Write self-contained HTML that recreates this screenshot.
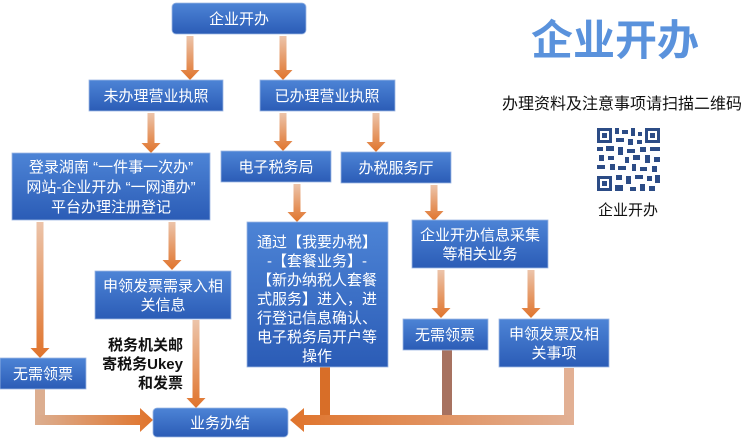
<!DOCTYPE html>
<html><head><meta charset="utf-8"><style>
html,body{margin:0;padding:0;background:#fff;width:750px;height:441px;overflow:hidden}
svg text{font-family:"Liberation Sans","Noto Sans CJK SC",sans-serif}
</style></head><body>
<svg width="750" height="441" viewBox="0 0 750 441" xmlns="http://www.w3.org/2000/svg">
<defs>
<linearGradient id="bx" x1="0" y1="0" x2="0" y2="1"><stop offset="0" stop-color="#4d84d6"/><stop offset="1" stop-color="#2b5cb6"/></linearGradient>
<linearGradient id="ar" x1="0" y1="0" x2="0" y2="1"><stop offset="0" stop-color="#ecc4aa"/><stop offset="1" stop-color="#e0742c"/></linearGradient>
<linearGradient id="hl" x1="0" y1="0" x2="1" y2="0"><stop offset="0" stop-color="#dcae90"/><stop offset="1" stop-color="#e0742c"/></linearGradient>
<linearGradient id="hr" x1="0" y1="0" x2="1" y2="0"><stop offset="0" stop-color="#e0742c"/><stop offset="1" stop-color="#e2b094"/></linearGradient>
</defs>
<g fill="url(#ar)">
<!-- arrows: shaft + head -->
<path d="M186.5 36h7v34h6l-9.5 10l-9.5-10h6z"/>
<path d="M279.5 36h7v34h6l-9.5 10l-9.5-10h6z"/>
<path d="M147.5 113h7v30h6l-9.5 10l-9.5-10h6z"/>
<path d="M279.5 113h7v28h6l-9.5 10l-9.5-10h6z"/>
<path d="M372.5 113h7v29h6l-9.5 10l-9.5-10h6z"/>
<path d="M36.5 222h7v126h6l-9.5 10l-9.5-10h6z"/>
<path d="M168.5 222h7v38h6l-9.5 10l-9.5-10h6z"/>
<path d="M293.5 184h7v28h6l-9.5 10l-9.5-10h6z"/>
<path d="M430.5 185h7v26h6l-9.5 10l-9.5-10h6z"/>
<path d="M437.5 270h7v38h6l-9.5 10l-9.5-10h6z"/>
<path d="M527.5 270h7v38h6l-9.5 10l-9.5-10h6z"/>
<path d="M192.5 320h7v78h6l-9.5 10l-9.5-10h6z"/>
</g>
<!-- bottom-left connector -->
<rect x="35" y="389" width="10" height="36" fill="#dcae90"/>
<path d="M35 415h105v-7l13 12l-13 12v-7h-105z" fill="url(#hl)"/>
<!-- right connectors -->
<rect x="320" y="367" width="10" height="53" fill="#d86e28"/>
<rect x="442" y="350" width="10" height="70" fill="#a77260"/>
<rect x="564" y="368" width="10" height="57" fill="#e2b094"/>
<path d="M574 415v10h-270v7l-14-12l14-12v7z" fill="url(#hr)"/>
<g fill="url(#bx)" stroke="#9db8e4" stroke-width="0.8">
<rect x="172" y="3" width="134" height="31" rx="4"/>
<rect x="89" y="80" width="134" height="31"/>
<rect x="260" y="80" width="135" height="31"/>
<rect x="12" y="153" width="198" height="67"/>
<rect x="221" y="151" width="110" height="31"/>
<rect x="341" y="152" width="110" height="31"/>
<rect x="247" y="222" width="141" height="145"/>
<rect x="412" y="220" width="136" height="48"/>
<rect x="95" y="271" width="136" height="48"/>
<rect x="0" y="358" width="86" height="31"/>
<rect x="403" y="319" width="85" height="31"/>
<rect x="499" y="319" width="110" height="48"/>
<rect x="153" y="408" width="135" height="29" rx="4"/>
</g>
<g fill="#fff" font-size="15" text-anchor="middle">
<text x="239" y="24">企业开办</text>
<text x="156" y="101">未办理营业执照</text>
<text x="327" y="101">已办理营业执照</text>
<text x="111" y="172">登录湖南 “一件事一次办”</text>
<text x="111" y="192">网站-企业开办 “一网通办”</text>
<text x="111" y="212">平台办理注册登记</text>
<text x="276" y="172">电子税务局</text>
<text x="396" y="173">办税服务厅</text>
<text x="317" y="247">通过【我要办税】</text>
<text x="317" y="266">-【套餐业务】-</text>
<text x="317" y="285">【新办纳税人套餐</text>
<text x="317" y="304">式服务】进入，进</text>
<text x="317" y="323">行登记信息确认、</text>
<text x="317" y="342">电子税务局开户等</text>
<text x="317" y="361">操作</text>
<text x="480" y="240">企业开办信息采集</text>
<text x="480" y="259">等相关业务</text>
<text x="163" y="291">申领发票需录入相</text>
<text x="163" y="310">关信息</text>
<text x="43" y="379">无需领票</text>
<text x="445" y="340">无需领票</text>
<text x="554" y="339">申领发票及相</text>
<text x="554" y="358">关事项</text>
<text x="220" y="428">业务办结</text>
</g>
<g font-size="15" font-weight="bold" text-anchor="end" fill="#111">
<text x="183" y="350">税务机关邮</text>
<text x="183" y="369">寄税务Ukey</text>
<text x="183" y="388">和发票</text>
</g>
<text x="615" y="55" font-size="42" font-weight="bold" fill="#5a92dc" text-anchor="middle">企业开办</text>
<text x="622" y="109" font-size="16" fill="#111" text-anchor="middle">办理资料及注意事项请扫描二维码</text>
<g fill="#2c4c86">
<rect x="597" y="128" width="63" height="63" fill="#fff"/>
<rect x="597" y="128" width="15" height="15"/><rect x="600" y="131" width="9" height="9" fill="#fff"/><rect x="602" y="133" width="5" height="5"/>
<rect x="645" y="128" width="15" height="15"/><rect x="648" y="131" width="9" height="9" fill="#fff"/><rect x="650" y="133" width="5" height="5"/>
<rect x="597" y="176" width="15" height="15"/><rect x="600" y="179" width="9" height="9" fill="#fff"/><rect x="602" y="181" width="5" height="5"/>
<rect x="615" y="128" width="4" height="6"/><rect x="622" y="130" width="6" height="4"/><rect x="631" y="128" width="4" height="8"/><rect x="638" y="132" width="4" height="4"/>
<rect x="616" y="138" width="8" height="4"/><rect x="628" y="139" width="5" height="6"/><rect x="637" y="140" width="5" height="4"/>
<rect x="597" y="147" width="6" height="4"/><rect x="606" y="146" width="8" height="5"/><rect x="618" y="147" width="5" height="8"/><rect x="627" y="149" width="8" height="4"/><rect x="640" y="147" width="6" height="5"/><rect x="650" y="147" width="10" height="4"/>
<rect x="599" y="155" width="5" height="6"/><rect x="608" y="156" width="6" height="4"/><rect x="625" y="157" width="4" height="6"/><rect x="633" y="155" width="7" height="5"/><rect x="645" y="155" width="5" height="8"/><rect x="654" y="157" width="6" height="5"/>
<rect x="597" y="165" width="8" height="4"/><rect x="610" y="164" width="5" height="6"/><rect x="618" y="166" width="8" height="4"/><rect x="632" y="164" width="4" height="7"/><rect x="640" y="167" width="7" height="4"/><rect x="652" y="166" width="5" height="6"/>
<rect x="616" y="175" width="6" height="5"/><rect x="626" y="176" width="5" height="8"/><rect x="635" y="175" width="8" height="4"/><rect x="647" y="176" width="5" height="5"/><rect x="655" y="175" width="5" height="8"/>
<rect x="615" y="185" width="8" height="6"/><rect x="630" y="187" width="6" height="4"/><rect x="640" y="184" width="5" height="7"/><rect x="649" y="186" width="6" height="5"/>
</g>
<text x="628" y="215" font-size="15" fill="#111" text-anchor="middle">企业开办</text>
</svg>
</body></html>
